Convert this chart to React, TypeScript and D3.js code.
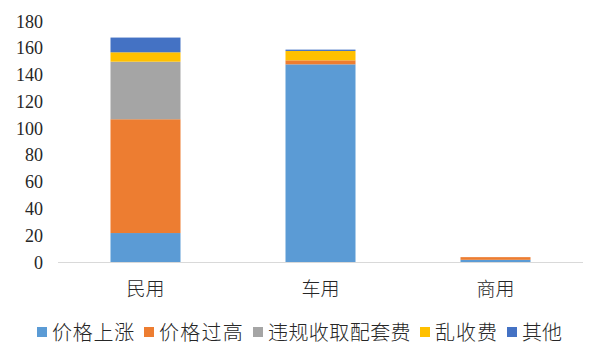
import React from 'react';
import * as d3 from 'd3';

const categories = ['民用', '车用', '商用'];
const seriesNames = ['价格上涨', '价格过高', '违规收取配套费', '乱收费', '其他'];
const priceRise = [22, 148, 2];
const priceHigh = [85, 3, 2];
const extraFees = [43, 0, 0];
const randomFees = [7, 7, 0];
const others = [11, 1, 0];
const yTicks = [0, 20, 40, 60, 80, 100, 120, 140, 160, 180];
const colors = ['#5B9BD5', '#ED7D31', '#A5A5A5', '#FFC000', '#4472C4'];

const width = 600;
const height = 360;
const cjk = '"Noto Sans CJK SC", sans-serif';
const serif = 'Liberation Serif, Times New Roman, DejaVu Serif, serif';

// legend swatch positions
const legendX = [37, 144, 253, 420, 507];

export default function App() {
  const rows = categories.map((c, i) => ({
    cat: c,
    s0: priceRise[i],
    s1: priceHigh[i],
    s2: extraFees[i],
    s3: randomFees[i],
    s4: others[i],
  }));
  const keys = ['s0', 's1', 's2', 's3', 's4'];
  const stacked = d3.stack().keys(keys)(rows as any);

  const x = d3
    .scaleBand()
    .domain(categories)
    .range([58, 583])
    .paddingInner(0.6)
    .paddingOuter(0.3);
  const y = d3.scaleLinear().domain([0, 180]).range([262.5, 21.5]);

  const fs = 20;
  const legend = seriesNames.map((name, i) => {
    const lx = legendX[i];
    let spacing = 0;
    if (i < seriesNames.length - 1) {
      const avail = legendX[i + 1] - lx - 15 - 9;
      spacing = Math.max(0, (avail - name.length * fs) / name.length);
    }
    return { name, color: colors[i], x: lx, spacing };
  });

  return (
    <svg
      width={width}
      height={height}
      style={{ position: 'absolute', left: 0, top: 0, background: '#fff' }}
    >
      {yTicks.map(t => (
        <text
          key={t}
          x={43}
          y={y(t)}
          textAnchor="end"
          dominantBaseline="central"
          style={{ fontFamily: serif }}
          fontSize={18}
          fill="#262626"
        >
          {t}
        </text>
      ))}
      {stacked.map((layer, li) => (
        <g key={li} fill={colors[li]}>
          {layer.map((d, i) => (
            <rect
              key={i}
              x={x(categories[i])}
              width={x.bandwidth()}
              y={y(d[1])}
              height={Math.max(0, y(d[0]) - y(d[1]))}
            />
          ))}
        </g>
      ))}
      <line x1={58} x2={583} y1={262.5} y2={262.5} stroke="#D9D9D9" strokeWidth={1} />
      {categories.map(c => (
        <text
          key={c}
          x={(x(c) as number) + x.bandwidth() / 2}
          y={287}
          textAnchor="middle"
          dominantBaseline="central"
          fontFamily={cjk}
          fontWeight={300}
          fontSize={19}
          fill="#262626"
        >
          {c}
        </text>
      ))}
      {legend.map(l => (
        <g key={l.name}>
          <rect x={l.x} y={327} width={10} height={10} fill={l.color} />
          <text
            x={l.x + 15}
            y={331}
            dominantBaseline="central"
            fontFamily={cjk}
            fontWeight={300}
            fontSize={fs}
            letterSpacing={l.spacing}
            fill="#262626"
          >
            {l.name}
          </text>
        </g>
      ))}
    </svg>
  );
}
